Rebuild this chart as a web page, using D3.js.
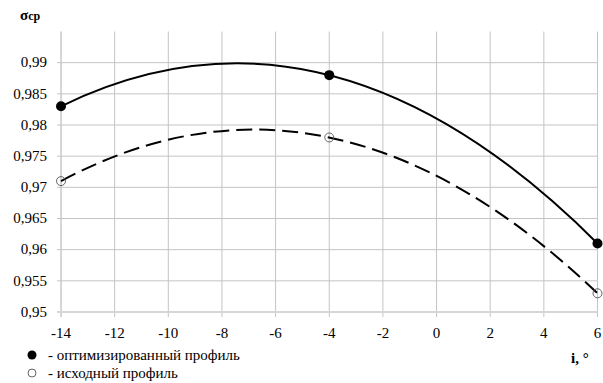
<!DOCTYPE html>
<html>
<head>
<meta charset="utf-8">
<script src="https://cdn.jsdelivr.net/npm/d3@7"></script>
<style>
  body { margin: 0; background: #fff; }
</style>
</head>
<body>
<script>
const xTicks = [-14, -12, -10, -8, -6, -4, -2, 0, 2, 4, 6];
const yTicks = [0.95, 0.955, 0.96, 0.965, 0.97, 0.975, 0.98, 0.985, 0.99];

const angles = [-14, -4, 6];
const optimized = [0.983, 0.988, 0.961];
const original = [0.971, 0.978, 0.953];

const legendLabels = ['- оптимизированный профиль', '- исходный профиль'];

const width = 603;
const height = 383;
const FONT = 'Liberation Serif';

const x = d3.scaleLinear().domain([-14, 6]).range([61, 597.5]);
const y = d3.scaleLinear().domain([0.95, 0.995]).range([312, 31.5]);

const svg = d3.select('body')
  .append('svg')
  .attr('width', width)
  .attr('height', height);

const fmt = v => String(+v.toFixed(3)).replace('.', ',');

// gridlines
svg.append('g')
  .selectAll('line')
  .data(xTicks)
  .enter()
  .append('line')
  .attr('x1', d => x(d)).attr('x2', d => x(d))
  .attr('y1', y.range()[1]).attr('y2', y(0.95) + 5)
  .attr('stroke', d => d === -14 ? '#d6d6d6' : '#c4c4c4')
  .attr('stroke-width', d => d === -14 ? 2 : 1);

svg.append('g')
  .selectAll('line')
  .data(yTicks)
  .enter()
  .append('line')
  .attr('x1', x(-14) - 4).attr('x2', x(6))
  .attr('y1', d => y(d)).attr('y2', d => y(d))
  .attr('stroke', d => d === 0.95 ? '#d6d6d6' : '#c4c4c4')
  .attr('stroke-width', d => d === 0.95 ? 2 : 1);

// tick labels
svg.append('g')
  .selectAll('text')
  .data(yTicks)
  .enter()
  .append('text')
  .attr('x', 47)
  .attr('y', d => y(d) + 4.8)
  .attr('text-anchor', 'end')
  .attr('font-family', FONT)
  .attr('font-size', 15)
  .text(fmt);

svg.append('g')
  .selectAll('text')
  .data(xTicks)
  .enter()
  .append('text')
  .attr('x', d => x(d))
  .attr('y', 338)
  .attr('text-anchor', 'middle')
  .attr('font-family', FONT)
  .attr('font-size', 15)
  .text(d => d);

// parabola through three equally spaced points as a quadratic bezier
const parabola = vals => {
  const p = angles.map((a, i) => [x(a), y(vals[i])]);
  const cx = 2 * p[1][0] - (p[0][0] + p[2][0]) / 2;
  const cy = 2 * p[1][1] - (p[0][1] + p[2][1]) / 2;
  const path = d3.path();
  path.moveTo(p[0][0], p[0][1]);
  path.quadraticCurveTo(cx, cy, p[2][0], p[2][1]);
  return path.toString();
};

svg.append('path')
  .attr('d', parabola(original))
  .attr('fill', 'none')
  .attr('stroke', '#000')
  .attr('stroke-width', 2)
  .attr('stroke-dasharray', '16,7');

svg.append('path')
  .attr('d', parabola(optimized))
  .attr('fill', 'none')
  .attr('stroke', '#000')
  .attr('stroke-width', 2);

svg.append('g')
  .selectAll('circle')
  .data(angles)
  .enter()
  .append('circle')
  .attr('cx', d => x(d))
  .attr('cy', (d, i) => y(optimized[i]))
  .attr('r', 5)
  .attr('fill', '#000');

svg.append('g')
  .selectAll('circle')
  .data(angles)
  .enter()
  .append('circle')
  .attr('cx', d => x(d))
  .attr('cy', (d, i) => y(original[i]))
  .attr('r', 4.5)
  .attr('fill', 'none')
  .attr('stroke', '#555')
  .attr('stroke-width', 0.9);

// axis titles
const yTitle = svg.append('text')
  .attr('x', 20)
  .attr('y', 20)
  .attr('font-family', FONT)
  .attr('font-size', 15)
  .attr('font-weight', 'bold');
yTitle.append('tspan').text('σ');
yTitle.append('tspan').attr('font-size', 12).text('ср');

svg.append('text')
  .attr('x', 571)
  .attr('y', 363)
  .attr('font-family', FONT)
  .attr('font-size', 15)
  .attr('font-weight', 'bold')
  .text('i, °');

// legend
const legend = svg.append('g')
  .selectAll('g')
  .data(legendLabels)
  .enter()
  .append('g')
  .attr('transform', (d, i) => `translate(0,${ 355 + i * 18 })`);

legend.append('circle')
  .attr('cx', 32)
  .attr('r', (d, i) => i === 0 ? 4.5 : 4)
  .attr('fill', (d, i) => i === 0 ? '#000' : 'none')
  .attr('stroke', (d, i) => i === 0 ? 'none' : '#555')
  .attr('stroke-width', 0.9);

legend.append('text')
  .attr('x', 48)
  .attr('y', 5)
  .attr('font-family', FONT)
  .attr('font-size', 15)
  .text(d => d);
</script>
</body>
</html>
